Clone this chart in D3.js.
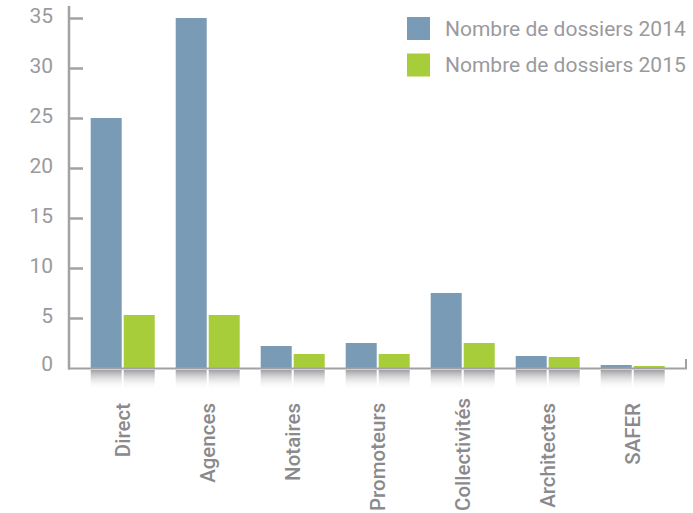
<!DOCTYPE html>
<html><head><meta charset="utf-8">
<script src="https://cdn.jsdelivr.net/npm/d3@7"></script>
<style>body{margin:0;background:#fff}svg{display:block}</style>
</head><body>
<script>
const categories = ["Direct","Agences","Notaires","Promoteurs","Collectivités","Architectes","SAFER"];
const seriesNames = ["Nombre de dossiers 2014","Nombre de dossiers 2015"];
const values2014 = [25, 35, 2.2, 2.5, 7.5, 1.2, 0.3];
const values2015 = [5.3, 5.3, 1.4, 1.4, 2.5, 1.1, 0.2];
const yTicks = [0,5,10,15,20,25,30,35];
const colors = ["#7a9bb5","#a8cd3a"];

const W = 693, H = 513;
const svg = d3.select("body").append("svg").attr("width", W).attr("height", H);
const axisColor = "#a2a2a6", textColor = "#9a9a9e";

const y = d3.scaleLinear().domain([0, 35]).range([368, 18]);
const x0 = d3.scaleBand().domain(categories).range([80.2, 675.2]).paddingInner(0.247).paddingOuter(0.1235);
const x1 = d3.scaleBand().domain([0,1]).range([0, x0.bandwidth()]).paddingInner(0.06);

const defs = svg.append("defs");
const grad = defs.append("linearGradient").attr("id","refl").attr("x1",0).attr("y1",0).attr("x2",0).attr("y2",1);
grad.append("stop").attr("offset","0%").attr("stop-color","#8f8f92").attr("stop-opacity",0.85);
grad.append("stop").attr("offset","100%").attr("stop-color","#ffffff").attr("stop-opacity",0);

const data = categories.map((c,i)=>({c, v:[values2014[i], values2015[i]]}));
const groups = svg.append("g").selectAll("g").data(data).join("g")
  .attr("transform", d=>`translate(${x0(d.c)},0)`);

// reflections
groups.selectAll("rect.refl").data(d=>d.v.map((v,k)=>({v,k}))).join("rect")
  .attr("class","refl")
  .attr("x", d=>x1(d.k)).attr("width", x1.bandwidth())
  .attr("y", y(0)+2).attr("height", 20)
  .attr("fill","url(#refl)");

// bars
groups.selectAll("rect.bar").data(d=>d.v.map((v,k)=>({v,k}))).join("rect")
  .attr("class","bar")
  .attr("x", d=>x1(d.k)).attr("width", x1.bandwidth())
  .attr("y", d=>y(d.v)).attr("height", d=>y(0)-y(d.v))
  .attr("fill", d=>colors[d.k]);

// y axis
const yAxis = d3.axisRight(y).tickValues(yTicks).tickSize(14).tickFormat("");
const gy = svg.append("g").attr("transform","translate(69,0)").call(yAxis);
gy.select(".domain").remove();
gy.selectAll(".tick line").attr("stroke", axisColor).attr("stroke-width",2.5)
  .filter(d=>d===0).remove();
svg.append("line").attr("x1",69).attr("x2",69).attr("y1",6).attr("y2",369.5)
  .attr("stroke",axisColor).attr("stroke-width",2.5);
svg.append("g").selectAll("text").data(yTicks).join("text")
  .attr("x",53).attr("y", d=>y(d) - (d===0?4:2))
  .attr("dy","0.35em").attr("text-anchor","end")
  .attr("font-family","Roboto").attr("font-size",21).attr("fill",textColor)
  .text(d=>d);

// x baseline
svg.append("path").attr("d",`M68,${y(0)+0.5}H686V359`).attr("fill","none")
  .attr("stroke",axisColor).attr("stroke-width",2);

// x labels
const xAxis = d3.axisBottom(x0).tickSize(0);
const gx = svg.append("g").attr("transform",`translate(0,${y(0)})`).call(xAxis);
gx.select(".domain").remove();
gx.selectAll(".tick text")
  .attr("x",0).attr("y",0).attr("dy","0.35em")
  .attr("text-anchor","start")
  .attr("font-family","Roboto").attr("font-weight",500)
  .attr("font-size",20.5).attr("fill","#8a8a8d")
  .attr("transform", function(){
    const len = this.getComputedTextLength();
    const off = Math.min(35, (H - 2 - y(0)) - len);
    return `translate(0,${off}) rotate(-90) translate(${-len},0)`;
  });

// legend
const lg = svg.append("g").selectAll("g").data(seriesNames).join("g")
  .attr("transform",(d,i)=>`translate(407,${17+i*36.5})`);
lg.append("rect").attr("width",23).attr("height",23).attr("fill",(d,i)=>colors[i]);
lg.append("text").attr("x",38).attr("y",11.5).attr("dy","0.35em")
  .attr("font-family","Roboto").attr("font-size",21).attr("fill",textColor).text(d=>d);
</script>
</body></html>
